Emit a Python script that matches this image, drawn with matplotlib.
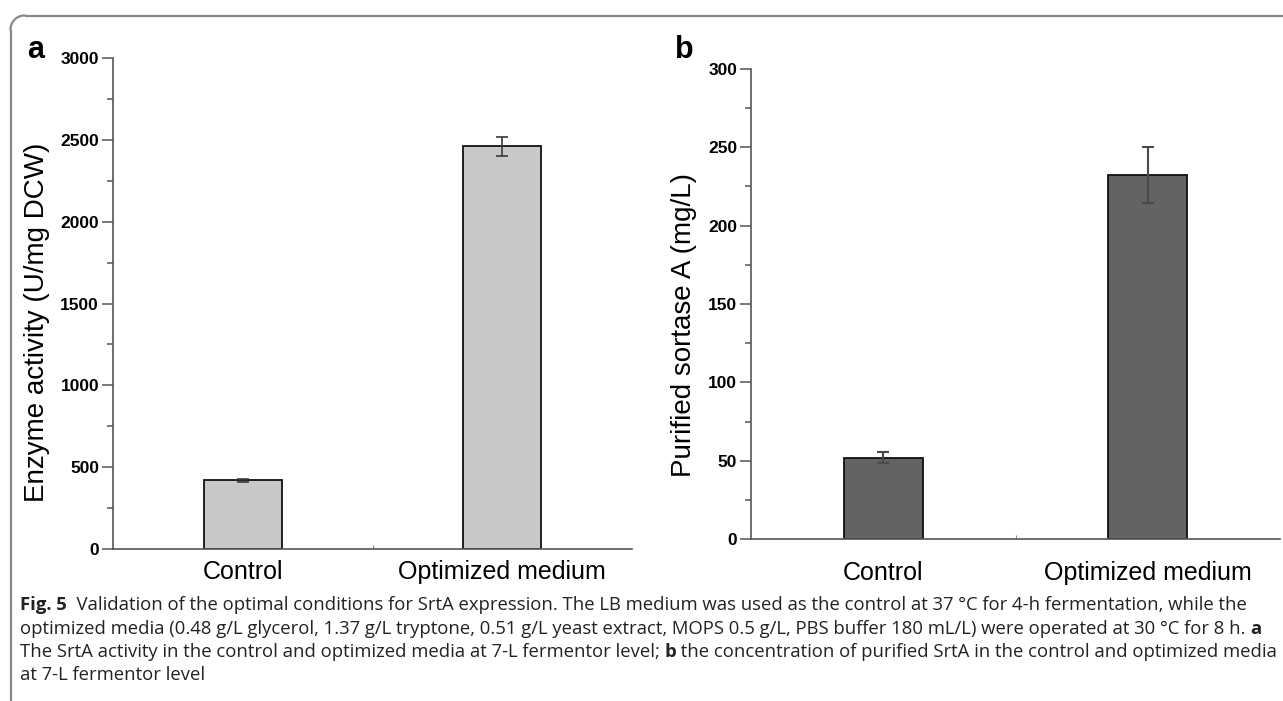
import matplotlib
matplotlib.use("Agg")
import matplotlib.pyplot as plt
import numpy as np

# ---- data ----
categories = ["Control", "Optimized medium"]
activity = [420, 2460]
activity_err = [8, 60]
purified = [52, 232.5]
purified_err = [3.5, 18]
yticks_a = [0, 500, 1000, 1500, 2000, 2500, 3000]
yticks_b = [0, 50, 100, 150, 200, 250, 300]

caption_lines = [
    [("Fig. 5", "bold"), ("  Validation of the optimal conditions for SrtA expression. The LB medium was used as the control at 37 °C for 4-h fermentation, while the", "normal")],
    [("optimized media (0.48 g/L glycerol, 1.37 g/L tryptone, 0.51 g/L yeast extract, MOPS 0.5 g/L, PBS buffer 180 mL/L) were operated at 30 °C for 8 h. ", "normal"), ("a", "bold")],
    [("The SrtA activity in the control and optimized media at 7-L fermentor level; ", "normal"), ("b", "bold"), (" the concentration of purified SrtA in the control and optimized media", "normal")],
    [("at 7-L fermentor level", "normal")],
]

W, H = 1283, 701
fig = plt.figure(figsize=(W / 100, H / 100), dpi=100)
plt.rcParams['font.family'] = ['Liberation Sans', 'DejaVu Sans']

# Frame overlay in pixel coordinates
ov = fig.add_axes([0, 0, 1, 1], zorder=-5)
ov.set_xlim(0, W)
ov.set_ylim(H, 0)
ov.axis("off")
r = 14
fx, fy = 10.5, 15.5
fcol = "#888888"
ov.plot([fx + r, W + 50], [fy, fy], color=fcol, lw=1.6, solid_capstyle="butt", clip_on=False)
ov.plot([fx, fx], [fy + r, H + 50], color=fcol, lw=1.6, solid_capstyle="butt", clip_on=False)
th = np.linspace(np.pi, 1.5 * np.pi, 30)
ov.plot(fx + r + r * np.cos(th), fy + r + r * np.sin(th), color=fcol, lw=1.6)

def px_axes(l, t, rr, b):
    return fig.add_axes([l / W, 1 - b / H, (rr - l) / W, (b - t) / H])

def style(ax, ticks, minor_step):
    for s in ["top", "right"]:
        ax.spines[s].set_visible(False)
    for s in ["left", "bottom"]:
        ax.spines[s].set_color("#555555")
        ax.spines[s].set_linewidth(1.2)
    ax.set_xlim(0.5, 2.5)
    ax.set_ylim(ticks[0], ticks[-1])
    ax.set_yticks(ticks)
    ax.set_yticks([t + minor_step for t in ticks[:-1]], minor=True)
    ax.set_yticklabels([str(t) for t in ticks], fontweight="bold", fontsize=12.5)
    ax.tick_params(axis="y", which="major", direction="out", length=8, width=1.1, color="#555555", pad=2)
    ax.tick_params(axis="y", which="minor", direction="out", length=4, width=1.1, color="#555555")
    ax.set_xticks([1, 2])
    ax.set_xticks([1.5], minor=True)
    ax.set_xticklabels(categories, fontsize=18)
    ax.tick_params(axis="x", which="both", direction="in", length=3, width=0.8, color="#888888")
    ax.patch.set_alpha(0)

# Panel a
axa = px_axes(113, 58, 632, 549)
axa.bar([1, 2], activity, width=0.3, color="#c8c8c8", edgecolor="#111111", linewidth=1.3, zorder=2)
axa.errorbar([1, 2], activity, yerr=activity_err, fmt="none", ecolor="#3a3a3a",
             elinewidth=1.2, capsize=4, capthick=1.2, zorder=3)
style(axa, yticks_a, 250)
axa.tick_params(axis="x", pad=8)

# Panel b
axb = px_axes(751, 69, 1280, 539)
axb.bar([1, 2], purified, width=0.3, color="#636363", edgecolor="#111111", linewidth=1.3, zorder=2)
axb.errorbar([1, 2], purified, yerr=purified_err, fmt="none", ecolor="#4a4a4a",
             elinewidth=1.5, capsize=4, capthick=1.5, zorder=3)
style(axb, yticks_b, 25)
axb.tick_params(axis="x", pad=16)

# Y labels
fig.text(37 / W, 1 - 322 / H, "Enzyme activity (U/mg DCW)", rotation=90,
         ha="center", va="center", fontsize=20)
fig.text(684 / W, 1 - 325 / H, "Purified sortase A (mg/L)", rotation=90,
         ha="center", va="center", fontsize=20)

# Panel letters
fig.text(27 / W, 1 - 58 / H, "a", fontsize=22, fontweight="bold", ha="left", va="baseline")
fig.text(675 / W, 1 - 58 / H, "b", fontsize=22, fontweight="bold", ha="left", va="baseline")

# Caption
renderer = fig.canvas.get_renderer()
cap_font = ["Open Sans", "DejaVu Sans"]
cap_size = 13.3
baselines = [610, 633.5, 657, 680.5]
for parts, yb in zip(caption_lines, baselines):
    x = 20
    for txt, wgt in parts:
        t = fig.text(x / W, 1 - yb / H, txt, fontsize=cap_size, fontweight=wgt,
                     family=cap_font, ha="left", va="baseline", color="#222222")
        bb = t.get_window_extent(renderer)
        x += bb.width

fig.savefig("out.png", dpi=100)
